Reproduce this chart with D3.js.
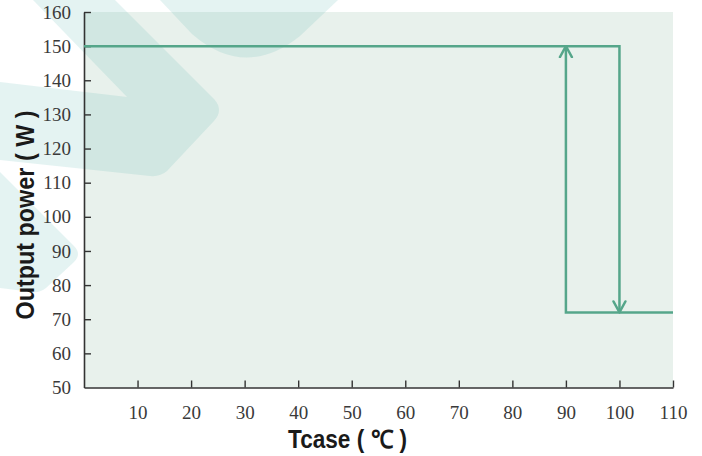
<!DOCTYPE html>
<html>
<head>
<meta charset="utf-8">
<script src="https://cdn.jsdelivr.net/npm/d3@7"></script>
<style>
  html, body { margin: 0; padding: 0; background: #ffffff; }
  svg { display: block; }
</style>
</head>
<body>
<svg id="chart" width="702" height="456"></svg>
<script>
// ---- data ----
const xTicks = [10, 20, 30, 40, 50, 60, 70, 80, 90, 100, 110];
const yTicks = [50, 60, 70, 80, 90, 100, 110, 120, 130, 140, 150, 160];
const xDomain = [0, 110];
const yDomain = [50, 160];
// high branch: full power until 100 °C, then drops (arrow down)
const highBranchT = [0, 100, 100];
const highBranchP = [150, 150, 72];
// low branch: reduced power, recovers at 90 °C (arrow up)
const lowBranchT = [110, 90, 90];
const lowBranchP = [72, 72, 150];
const xTitle = "Tcase ( \u2103 )";
const yTitle = "Output power ( W )";

// ---- layout ----
const plotL = 84, plotR = 673, plotT = 12, plotB = 387.5;
const lineColor = "#55a68a";

const svg = d3.select("#chart");

const x = d3.scaleLinear().domain(xDomain).range([plotL, plotR]);
const y = d3.scaleLinear().domain(yDomain).range([plotB, plotT]);

// plot background
svg.append("rect")
  .attr("x", plotL).attr("y", plotT)
  .attr("width", plotR - plotL).attr("height", plotB - plotT)
  .attr("fill", "#e8f1ec");

// decorative watermark
const wm = svg.append("g").attr("fill", "#5fb8b0").attr("fill-opacity", 0.17);
wm.append("path").attr("d", "M33,0 L115,0 L214,99 Q224,110 214,121 L167,171 Q160,177 150,176 L0,160 L0,82 L127,97 Z");
wm.append("path").attr("d", "M160,0 L192,34 Q245,80 300,36 L338,0 Z");
wm.append("path").attr("d", "M0,172 L74,246 Q82,254 74,262 L46,288 Q40,293 32,292 L0,288 Z");

// axes
const yAxis = d3.axisLeft(y).tickValues(yTicks).tickSizeInner(-7).tickSizeOuter(0).tickPadding(13);
const xAxis = d3.axisBottom(x).tickValues(xTicks).tickSizeInner(-7).tickSizeOuter(0).tickPadding(18);

const gy = svg.append("g").attr("transform", `translate(${plotL},0)`).call(yAxis);
const gx = svg.append("g").attr("transform", `translate(0,${plotB})`).call(xAxis);

[gx, gy].forEach(g => {
  g.select(".domain").attr("stroke", "#333").attr("stroke-width", 1.6);
  g.selectAll(".tick line").attr("stroke", "#333").attr("stroke-width", 1.4);
  g.selectAll(".tick text")
    .attr("font-family", "'Liberation Serif', 'DejaVu Serif', serif")
    .attr("font-size", 19)
    .attr("fill", "#3a3a3a");
});
gy.selectAll(".tick").filter(d => d === 50).select("line").remove();

// arrow marker
const defs = svg.append("defs");
defs.append("marker")
  .attr("id", "arrow")
  .attr("markerUnits", "userSpaceOnUse")
  .attr("viewBox", "-12 -8 14 16")
  .attr("refX", 0).attr("refY", 0)
  .attr("markerWidth", 14).attr("markerHeight", 16)
  .attr("orient", "auto")
  .append("path")
  .attr("d", "M-11,-6 L0,0 L-11,6")
  .attr("fill", "none")
  .attr("stroke", lineColor)
  .attr("stroke-width", 2.4)
  .attr("stroke-linecap", "round")
  .attr("stroke-linejoin", "round");

const line = d3.line().x(d => x(d[0])).y(d => y(d[1]));

const branches = [
  d3.zip(highBranchT, highBranchP),
  d3.zip(lowBranchT, lowBranchP)
];

svg.append("g").selectAll("path")
  .data(branches)
  .join("path")
  .attr("d", line)
  .attr("fill", "none")
  .attr("stroke", lineColor)
  .attr("stroke-width", 2.5)
  .attr("marker-end", "url(#arrow)");

// titles
svg.append("text")
  .attr("x", 347.5).attr("y", 448)
  .attr("text-anchor", "middle")
  .attr("font-family", "'Liberation Sans', Arial, sans-serif")
  .attr("font-weight", "bold")
  .attr("font-size", 25)
  .attr("textLength", 119)
  .attr("lengthAdjust", "spacingAndGlyphs")
  .attr("fill", "#1a1a1a")
  .text(xTitle);

svg.append("text")
  .attr("transform", "translate(34,215) rotate(-90)")
  .attr("text-anchor", "middle")
  .attr("font-family", "'Liberation Sans', Arial, sans-serif")
  .attr("font-weight", "bold")
  .attr("font-size", 26)
  .attr("textLength", 209)
  .attr("lengthAdjust", "spacingAndGlyphs")
  .attr("fill", "#1a1a1a")
  .text(yTitle);
</script>
</body>
</html>
